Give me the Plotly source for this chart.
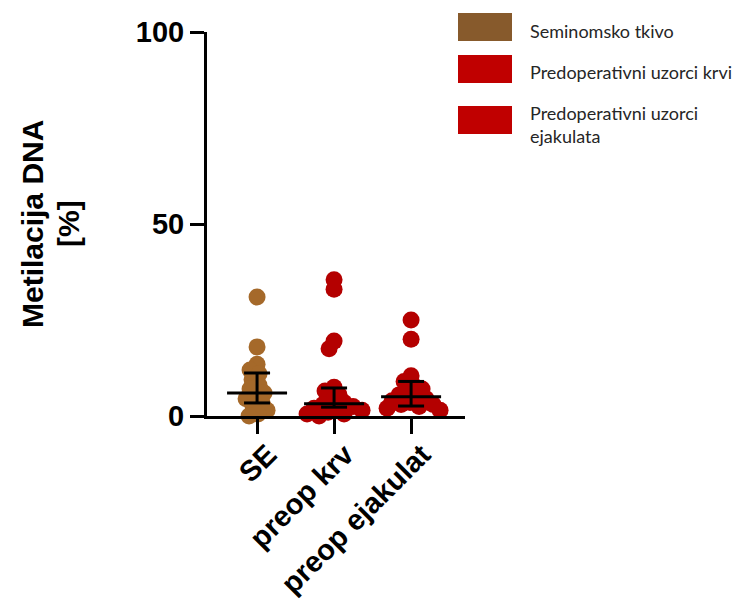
import plotly.graph_objects as go

# ---------------- data ----------------
categories = ["SE", "preop krv", "preop ejakulat"]
se_values = [31, 18, 13.5, 12, 11, 9.5, 8, 7, 6, 5, 4.5, 3.5, 2.5, 1.5, 0.5, 0]
krv_values = [35.5, 33, 19.5, 17.5, 7.5, 6.5, 5.5, 4, 3.5, 3, 2.5, 2, 2, 1.5, 1, 0.5, 0.5, 0]
ejak_values = [25, 20, 10.5, 9, 8, 7, 6, 5.5, 5, 4.5, 4, 3.5, 3, 3, 2.5, 2, 1.5]
medians = [6, 3.2, 5]
q1 = [3.4, 2.3, 2.6]
q3 = [11.2, 7.3, 9]
y_ticks = [0, 50, 100]
y_title_lines = ["Metilacija DNA", "[%]"]
legend_labels = ["Seminomsko tkivo", "Predoperativni uzorci krvi", "Predoperativni uzorci<br>ejakulata"]

# ---------------- styling / geometry ----------------
PAGE = 8  # default body margin of the html page
W, H = 743, 600
ML, MT = 207 - PAGE, 32 - PAGE
plot_w, plot_h = 258, 384
MR = W - ML - plot_w
MB = H - MT - plot_h
XR = [-0.65, 2.7]
YR = [0, 100]
ppu_x = plot_w / (XR[1] - XR[0])
ppu_y = plot_h / (YR[1] - YR[0])

marker_colors = ["#A5692A", "#B40000", "#B40000"]
legend_colors = ["#875A2C", "#C00000", "#C00000"]
MSIZE = 17
FONT = "Liberation Sans, Arial, sans-serif"


def swarm_offsets(vals, dist_px):
    """Simple beeswarm: place points (descending) at smallest horizontal offset avoiding collisions."""
    order = sorted(range(len(vals)), key=lambda i: -vals[i])
    placed = []
    offs = [0.0] * len(vals)
    for n, i in enumerate(order):
        y = vals[i] * ppu_y
        best = None
        k = 0
        while best is None:
            cands = [0] if k == 0 else ([k, -k] if n % 2 == 0 else [-k, k])
            for s in cands:
                if all((s - px) ** 2 + (y - py) ** 2 >= dist_px ** 2 for px, py in placed):
                    best = s
                    break
            k += 1
        placed.append((best, y))
        offs[i] = best / ppu_x
    return offs


fig = go.Figure()
groups = [se_values, krv_values, ejak_values]
for gi, vals in enumerate(groups):
    offs = swarm_offsets(vals, 9)
    fig.add_trace(go.Scatter(
        x=[gi + o for o in offs], y=vals, mode="markers",
        marker=dict(size=MSIZE, color=marker_colors[gi], line=dict(width=0)),
        cliponaxis=False, showlegend=False, hoverinfo="y"))

# median line + IQR error bars
med_half = 30 / ppu_x
cap_half = 13 / ppu_x
for gi in range(3):
    line = dict(color="black", width=3)
    fig.add_trace(go.Scatter(x=[gi - med_half, gi + med_half], y=[medians[gi]] * 2, mode="lines",
                             line=line, showlegend=False, hoverinfo="skip", cliponaxis=False))
    fig.add_trace(go.Scatter(x=[gi, gi], y=[q1[gi], q3[gi]], mode="lines",
                             line=line, showlegend=False, hoverinfo="skip", cliponaxis=False))
    for qv in (q1[gi], q3[gi]):
        fig.add_trace(go.Scatter(x=[gi - cap_half, gi + cap_half], y=[qv, qv], mode="lines",
                                 line=line, showlegend=False, hoverinfo="skip", cliponaxis=False))


def px_x(px):  # page pixel -> paper
    return (px - PAGE - ML) / plot_w


def px_y(py):
    return (MT + plot_h - (py - PAGE)) / plot_h


# y-axis title (two rotated lines)
for xpx, txt in zip([32, 68], y_title_lines):
    fig.add_annotation(xref="paper", yref="paper", x=px_x(xpx), y=px_y(224), textangle=-90,
                       xanchor="center", yanchor="middle", showarrow=False, text=txt,
                       font=dict(family=FONT, size=30, color="black", weight="bold"))

# custom legend
box_rows = [(13, 41), (55, 83), (106, 134)]
text_y = [31, 72, 124]
for i in range(3):
    y0, y1 = box_rows[i]
    fig.add_shape(type="rect", xref="paper", yref="paper",
                  x0=px_x(458), x1=px_x(512), y0=px_y(y1), y1=px_y(y0),
                  fillcolor=legend_colors[i], line=dict(width=0))
    fig.add_annotation(xref="paper", yref="paper", x=px_x(528), y=px_y(text_y[i]),
                       xanchor="left", yanchor="middle", align="left", showarrow=False,
                       text=legend_labels[i], font=dict(family="Lato, Carlito, sans-serif", size=18, color="#262626"))

fig.update_layout(
    width=W, height=H,
    margin=dict(l=ML, r=MR, t=MT, b=MB),
    paper_bgcolor="white", plot_bgcolor="white",
    xaxis=dict(range=XR, tickvals=[0, 1, 2], ticktext=categories, tickangle=-45, automargin=False,
               showline=True, linecolor="black", linewidth=3, ticks="outside", ticklen=15,
               tickwidth=3, tickcolor="black", showgrid=False, zeroline=False,
               ticklabelshift=11, ticklabelstandoff=-8,
               tickfont=dict(family=FONT, size=29, color="black", weight="bold")),
    yaxis=dict(range=YR, tickvals=y_ticks, showline=True, linecolor="black", linewidth=3,
               automargin=False,
               ticks="outside", ticklen=14, tickwidth=3, tickcolor="black", showgrid=False,
               zeroline=False,
               tickfont=dict(family=FONT, size=29, color="black", weight="bold")),
)

fig.write_html("out.html")
